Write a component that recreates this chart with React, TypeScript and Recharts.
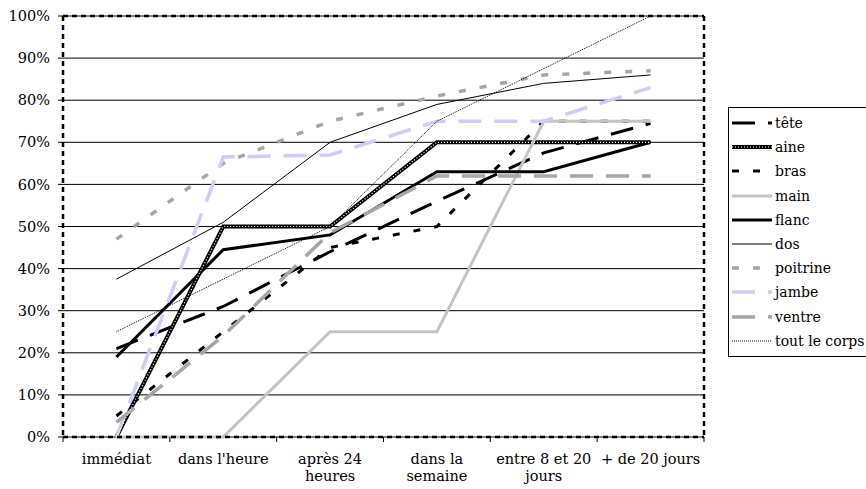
import React from 'react';
import { LineChart, Line, XAxis, YAxis, CartesianGrid, Legend } from 'recharts';

const categories = [
  'immédiat',
  "dans l'heure",
  'après 24\nheures',
  'dans la\nsemaine',
  'entre 8 et 20\njours',
  '+ de 20 jours',
];

const tete = [21, 31, 44, 56, 67.5, 74.5];
const aine = [0, 50, 50, 70, 70, 70];
const bras = [5, 25, 45, 50, 75, 75];
const main = [0, 0, 25, 25, 75, 75];
const flanc = [19, 44.5, 48, 63, 63, 70];
const dos = [37.5, 51, 70, 79, 84, 86];
const poitrine = [47, 65, 75, 81, 86, 87];
const jambe = [0, 66.5, 67, 75, 75, 83];
const ventre = [3.5, 24, 48.5, 62, 62, 62];
const toutLeCorps = [25, 37.5, 50, 75, 87.5, 100];

const yTicks = [0, 10, 20, 30, 40, 50, 60, 70, 80, 90, 100];

const data = categories.map((cat, i) => ({
  cat,
  tete: tete[i],
  aine: aine[i],
  bras: bras[i],
  main: main[i],
  flanc: flanc[i],
  dos: dos[i],
  poitrine: poitrine[i],
  jambe: jambe[i],
  ventre: ventre[i],
  toutLeCorps: toutLeCorps[i],
}));

const FONT = "'DejaVu Serif', serif";

type SeriesStyle = {
  key: string;
  name: string;
  color: string;
  width: number;
  dash?: string;
  overlay?: boolean;
};

const series: SeriesStyle[] = [
  { key: 'tete', name: 'tête', color: '#000000', width: 3, dash: '23 13' },
  { key: 'aine', name: 'aine', color: '#000000', width: 4, overlay: true },
  { key: 'bras', name: 'bras', color: '#000000', width: 3, dash: '7 14' },
  { key: 'main', name: 'main', color: '#c4c4c4', width: 3 },
  { key: 'flanc', name: 'flanc', color: '#000000', width: 3 },
  { key: 'dos', name: 'dos', color: '#000000', width: 1 },
  { key: 'poitrine', name: 'poitrine', color: '#a6a6a6', width: 3.5, dash: '7 14' },
  { key: 'jambe', name: 'jambe', color: '#ccccff', width: 3.5, dash: '23 13' },
  { key: 'ventre', name: 'ventre', color: '#a6a6a6', width: 3.5, dash: '23 13' },
  { key: 'toutLeCorps', name: 'tout le corps', color: '#000000', width: 1, dash: '1 1' },
];

const XTick = (props: any) => {
  const { x, y, payload, index } = props;
  const half = payload && typeof payload.offset === 'number' && payload.offset > 0 ? payload.offset : 53.4;
  const lines = String(payload.value).split('\n');
  return (
    <g>
      <line x1={x - half} y1={y} x2={x - half} y2={y + 5} stroke="#000" strokeWidth={1} />
      {index === categories.length - 1 && (
        <line x1={x + half} y1={y} x2={x + half} y2={y + 5} stroke="#000" strokeWidth={1} />
      )}
      {lines.map((l, i) => (
        <text key={i} x={x} y={y + 27 + i * 16.5} textAnchor="middle" fontFamily={FONT} fontSize={14.5} fill="#000">
          {l}
        </text>
      ))}
    </g>
  );
};

const LegendContent = () => (
  <div
    style={{
      border: '1px solid #000',
      background: '#fff',
      paddingTop: 3,
      paddingLeft: 3,
      boxSizing: 'border-box',
      width: 140,
      height: 250,
      fontFamily: FONT,
      fontSize: 14,
      color: '#000',
    }}
  >
    {series.map((s) => (
      <div key={s.key} style={{ height: 24.2, display: 'flex', alignItems: 'center', whiteSpace: 'nowrap' }}>
        <svg width={43} height={10} style={{ flex: 'none' }}>
          <line x1={0} y1={5} x2={40} y2={5} stroke={s.color} strokeWidth={s.width} strokeDasharray={s.dash} />
          {s.overlay && <line x1={0} y1={5} x2={40} y2={5} stroke="#fff" strokeWidth={1.2} strokeDasharray="1 2" />}
        </svg>
        <span style={{ lineHeight: '16px' }}>{s.name}</span>
      </div>
    ))}
  </div>
);

export default function App() {
  const borderLine = { stroke: '#000', strokeWidth: 2.5, strokeDasharray: '5 4' };
  return (
    <div style={{ position: 'absolute', left: 0, top: 0, width: 866, height: 489, background: '#fff' }}>
      <LineChart width={866} height={489} data={data} margin={{ top: 15, right: 161, bottom: 0, left: 8 }}>
        <CartesianGrid vertical={false} stroke="#000" strokeWidth={1} />
        <XAxis
          dataKey="cat"
          scale="band"
          height={52}
          interval={0}
          tickSize={0}
          tickMargin={0}
          tickLine={false}
          axisLine={borderLine}
          tick={<XTick />}
        />
        <XAxis xAxisId="top" dataKey="cat" scale="band" orientation="top" height={1} tick={false} tickLine={false} axisLine={borderLine} />
        <YAxis
          width={55}
          domain={[0, 100]}
          ticks={yTicks}
          interval={0}
          tickFormatter={(v: number) => `${v}%`}
          tickSize={5}
          tickMargin={8}
          tickLine={{ stroke: '#000' }}
          axisLine={borderLine}
          tick={{ fontSize: 14.5, fill: '#000', fontFamily: FONT }}
        />
        <YAxis yAxisId="r" orientation="right" width={1} domain={[0, 100]} tick={false} tickLine={false} axisLine={borderLine} />
        <Legend
          align="center"
          verticalAlign="middle"
          layout="horizontal"
          content={<LegendContent />}
          wrapperStyle={{ position: 'absolute', left: 728, top: 107, width: 140, height: 250 }}
        />
        {series.map((s) => (
          <Line
            key={s.key}
            type="linear"
            dataKey={s.key}
            name={s.name}
            stroke={s.color}
            strokeWidth={s.width}
            strokeDasharray={s.dash}
            dot={false}
            activeDot={false}
            isAnimationActive={false}
            legendType="none"
          />
        ))}
        <Line
          type="linear"
          dataKey="aine"
          stroke="#ffffff"
          strokeWidth={1.2}
          strokeDasharray="1 2"
          dot={false}
          activeDot={false}
          isAnimationActive={false}
          legendType="none"
        />
      </LineChart>
    </div>
  );
}
